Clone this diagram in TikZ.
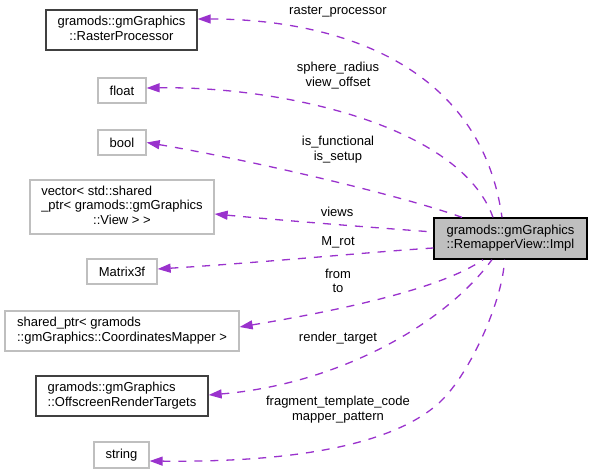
\documentclass[tikz,border=0pt]{standalone}
\usepackage{fontspec}
\setmainfont{Liberation Sans}
\usetikzlibrary{arrows.meta}
\definecolor{edgec}{HTML}{9A32CD}
\definecolor{lightb}{HTML}{BFBFBF}
\definecolor{darkb}{HTML}{404040}
\definecolor{implfill}{HTML}{BFBFBF}
\begin{document}
\begin{tikzpicture}[x=1pt,y=-1pt,
  font=\fontsize{13}{14.5}\selectfont,
  box/.style={draw=lightb, line width=1.3pt, fill=white, inner sep=0pt, align=center},
  docbox/.style={box, draw=darkb},
  implbox/.style={box, draw=black, fill=implfill},
  edge/.style={draw=edgec, line width=1.3pt, dash pattern=on 8pt off 8pt,
    {Triangle[length=13pt,width=9pt,fill=edgec]}-},
  lbl/.style={inner sep=0pt, align=center}]
\useasboundingbox (0,0) rectangle (592,473);
% nodes
\node[docbox, minimum width=151pt, minimum height=40pt] (rp) at (121.5,30)
  {\begin{tabular}{@{}c@{}}\multicolumn{1}{@{}l@{}}{gramods::gmGraphics}\\ ::RasterProcessor\end{tabular}};
\node[box, minimum width=48pt, minimum height=25pt] (fl) at (122,90.5) {float};
\node[box, minimum width=48pt, minimum height=25pt] (bo) at (122,142.5) {bool};
\node[box, minimum width=184pt, minimum height=54pt] (ve) at (122,207)
  {\begin{tabular}{@{}c@{}}\multicolumn{1}{@{}l@{}}{vector< std::shared}\\ \multicolumn{1}{@{}l@{}}{\_ptr< gramods::gmGraphics}\\ ::View > >\end{tabular}};
\node[box, minimum width=70pt, minimum height=25pt] (ma) at (122,271.5) {Matrix3f};
\node[box, minimum width=234pt, minimum height=40pt] (sp) at (122,331)
  {\begin{tabular}{@{}c@{}}\multicolumn{1}{@{}l@{}}{shared\_ptr< gramods}\\ ::gmGraphics::CoordinatesMapper >\end{tabular}};
\node[docbox, minimum width=172pt, minimum height=40pt] (of) at (122,396)
  {\begin{tabular}{@{}c@{}}\multicolumn{1}{@{}l@{}}{gramods::gmGraphics}\\ ::OffscreenRenderTargets\end{tabular}};
\node[box, minimum width=55pt, minimum height=26pt] (st) at (121.5,455) {string};
\node[implbox, minimum width=153pt, minimum height=41pt] (im) at (510.5,238.5)
  {\begin{tabular}{@{}c@{}}\multicolumn{1}{@{}l@{}}{gramods::gmGraphics}\\ ::RemapperView::Impl\end{tabular}};
% edges
\draw[edge] ([yshift=11pt]rp.east) .. controls (330,19) and (480,60) .. ([xshift=-8.5pt]im.north);
\draw[edge] ([yshift=2.5pt]fl.east) .. controls (280,86) and (460,125) .. ([xshift=-17.5pt]im.north);
\draw[edge] (bo.east) .. controls (250,160) and (400,195) .. ([xshift=-48.5pt]im.north);
\draw[edge] ([yshift=-7pt]ve.east) .. controls (300,222) and (380,228) .. ([yshift=6.5pt]im.west);
\draw[edge] ([yshift=2.5pt]ma.east) .. controls (270,262) and (370,252) .. ([yshift=-9.5pt]im.west);
\draw[edge] ([yshift=4pt]sp.east) .. controls (330,312) and (440,290) .. ([xshift=-27.5pt]im.south);
\draw[edge] ([yshift=1pt]of.east) .. controls (330,385) and (440,330) .. ([xshift=-18.5pt]im.south);
\coordinate (sm) at (440,402);
\draw[edge] ([yshift=-6pt]st.east) .. controls (340,463) and (410,430) .. (sm)
  .. controls (470,374) and (503,300) .. ([xshift=-6pt]im.south);
% labels
\node[lbl] (l1) at (338,12) {raster\_processor};
\node[lbl] (l2) at (338,75.5) {sphere\_radius\\view\_offset};
\node[lbl] (l3) at (338,149.5) {is\_functional\\is\_setup};
\node[lbl] (l4) at (337,212) {views};
\node[lbl] (l5) at (338,242) {M\_rot};
\node[lbl] (l6) at (338,281) {from\\to};
\node[lbl] (l7) at (338,338) {render\_target};
\node[lbl] (l8) at (338,409.5) {fragment\_template\_code\\mapper\_pattern};
\end{tikzpicture}
\end{document}
